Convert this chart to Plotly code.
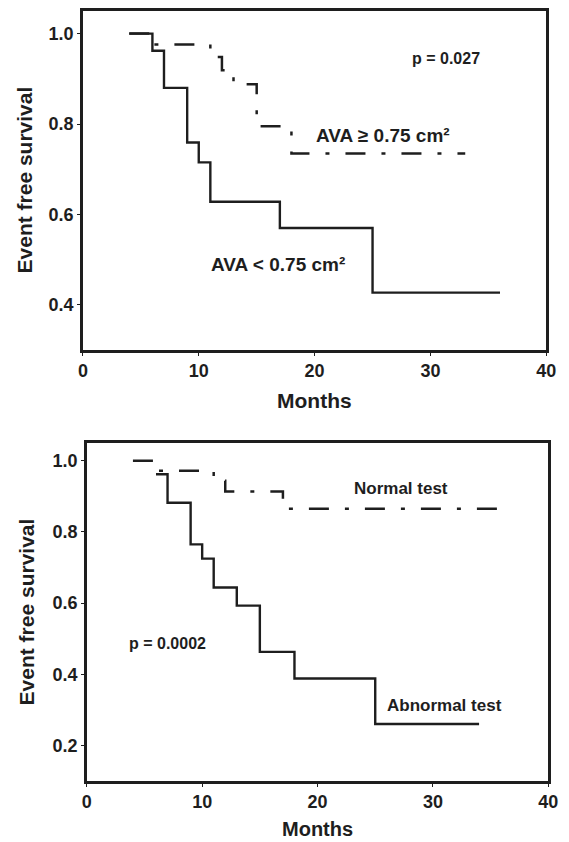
import plotly.graph_objects as go

# ---- Data (Kaplan-Meier step curves) ----
# Top panel: aortic valve area groups
ava_small_months = [4, 6, 7, 9, 10, 11, 17, 25, 36]
ava_small_surv = [1.0, 0.962, 0.880, 0.759, 0.715, 0.628, 0.570, 0.427, 0.427]

ava_large_months = [4, 6, 11, 12, 13, 15, 18, 33]
ava_large_surv = [1.0, 0.976, 0.948, 0.919, 0.888, 0.795, 0.735, 0.735]

# Bottom panel: exercise test groups
abn_months = [6, 7, 9, 10, 11, 13, 15, 18, 25, 34]
abn_surv = [0.962, 0.882, 0.765, 0.725, 0.644, 0.593, 0.463, 0.388, 0.260, 0.260]

norm_months = [4, 6, 11, 12, 17, 36]
norm_surv = [1.0, 0.972, 0.944, 0.914, 0.865, 0.865]

x_ticks = [0, 10, 20, 30, 40]
y_ticks_top = [0.4, 0.6, 0.8, 1.0]
y_ticks_bot = [0.2, 0.4, 0.6, 0.8, 1.0]
y_tick_labels_top = ["0.4", "0.6", "0.8", "1.0"]
y_tick_labels_bot = ["0.2", "0.4", "0.6", "0.8", "1.0"]

W, H = 569, 842
FONT = "Liberation Sans, Arial, sans-serif"
DASHDOT = "20px,16px,4px,16px"
INK = "#1e1e1e"

fig = go.Figure()

fig.add_trace(go.Scatter(x=ava_small_months, y=ava_small_surv, mode="lines",
                         line=dict(shape="hv", color=INK, width=2.4),
                         xaxis="x", yaxis="y", showlegend=False))
fig.add_trace(go.Scatter(x=ava_large_months, y=ava_large_surv, mode="lines",
                         line=dict(shape="hv", color=INK, width=2.5, dash=DASHDOT),
                         xaxis="x", yaxis="y", showlegend=False))
fig.add_trace(go.Scatter(x=abn_months, y=abn_surv, mode="lines",
                         line=dict(shape="hv", color=INK, width=2.4),
                         xaxis="x2", yaxis="y2", showlegend=False))
fig.add_trace(go.Scatter(x=norm_months, y=norm_surv, mode="lines",
                         line=dict(shape="hv", color=INK, width=2.5, dash=DASHDOT),
                         xaxis="x2", yaxis="y2", showlegend=False))

def px_x(p):
    return p / W

def px_y(p):
    return 1 - p / H

axis_common = dict(showgrid=False, zeroline=False, showline=True, mirror=True,
                   linecolor=INK, linewidth=2.5, ticks="outside", ticklen=3,
                   tickcolor=INK,
                   tickfont=dict(family=FONT, size=18, color=INK, weight="bold"))

fig.update_layout(
    width=W, height=H,
    margin=dict(l=0, r=0, t=0, b=0),
    paper_bgcolor="white", plot_bgcolor="white",
    xaxis=dict(domain=[px_x(80), px_x(556)], range=[0, 40], tickvals=x_ticks,
               anchor="y", **axis_common),
    yaxis=dict(domain=[px_y(350), px_y(11)], range=[0.30, 1.05], tickvals=y_ticks_top,
               ticktext=y_tick_labels_top, anchor="x", **axis_common),
    xaxis2=dict(domain=[px_x(84), px_x(558)], range=[0, 40], tickvals=x_ticks,
                anchor="y2", **axis_common),
    yaxis2=dict(domain=[px_y(781), px_y(443)], range=[0.10, 1.05], tickvals=y_ticks_bot,
                ticktext=y_tick_labels_bot, anchor="x2", **axis_common),
)

def label(text, x, y, xref, yref, size, angle=0):
    fig.add_annotation(text=text, x=x, y=y, xref=xref, yref=yref, showarrow=False,
                       textangle=angle,
                       font=dict(family=FONT, size=size, color=INK, weight="bold"),
                       xanchor="center", yanchor="middle")

# in-plot texts
label("p = 0.027", 31.3, 0.945, "x", "y", 16)
label("AVA \u2265 0.75 cm\u00b2", 25.9, 0.775, "x", "y", 19)
label("AVA < 0.75 cm\u00b2", 16.8, 0.49, "x", "y", 19)
label("Normal test", 27.2, 0.921, "x2", "y2", 17)
label("Abnormal test", 31.0, 0.313, "x2", "y2", 17)
label("p = 0.0002", 7.0, 0.486, "x2", "y2", 16)

# axis titles
label("Months", px_x(318), px_y(401), "paper", "paper", 21)
label("Months", px_x(321), px_y(829), "paper", "paper", 20)
label("Event free survival", px_x(20), px_y(180), "paper", "paper", 21, -90)
label("Event free survival", px_x(22), px_y(612), "paper", "paper", 21, -90)

fig.write_html("out.html")
